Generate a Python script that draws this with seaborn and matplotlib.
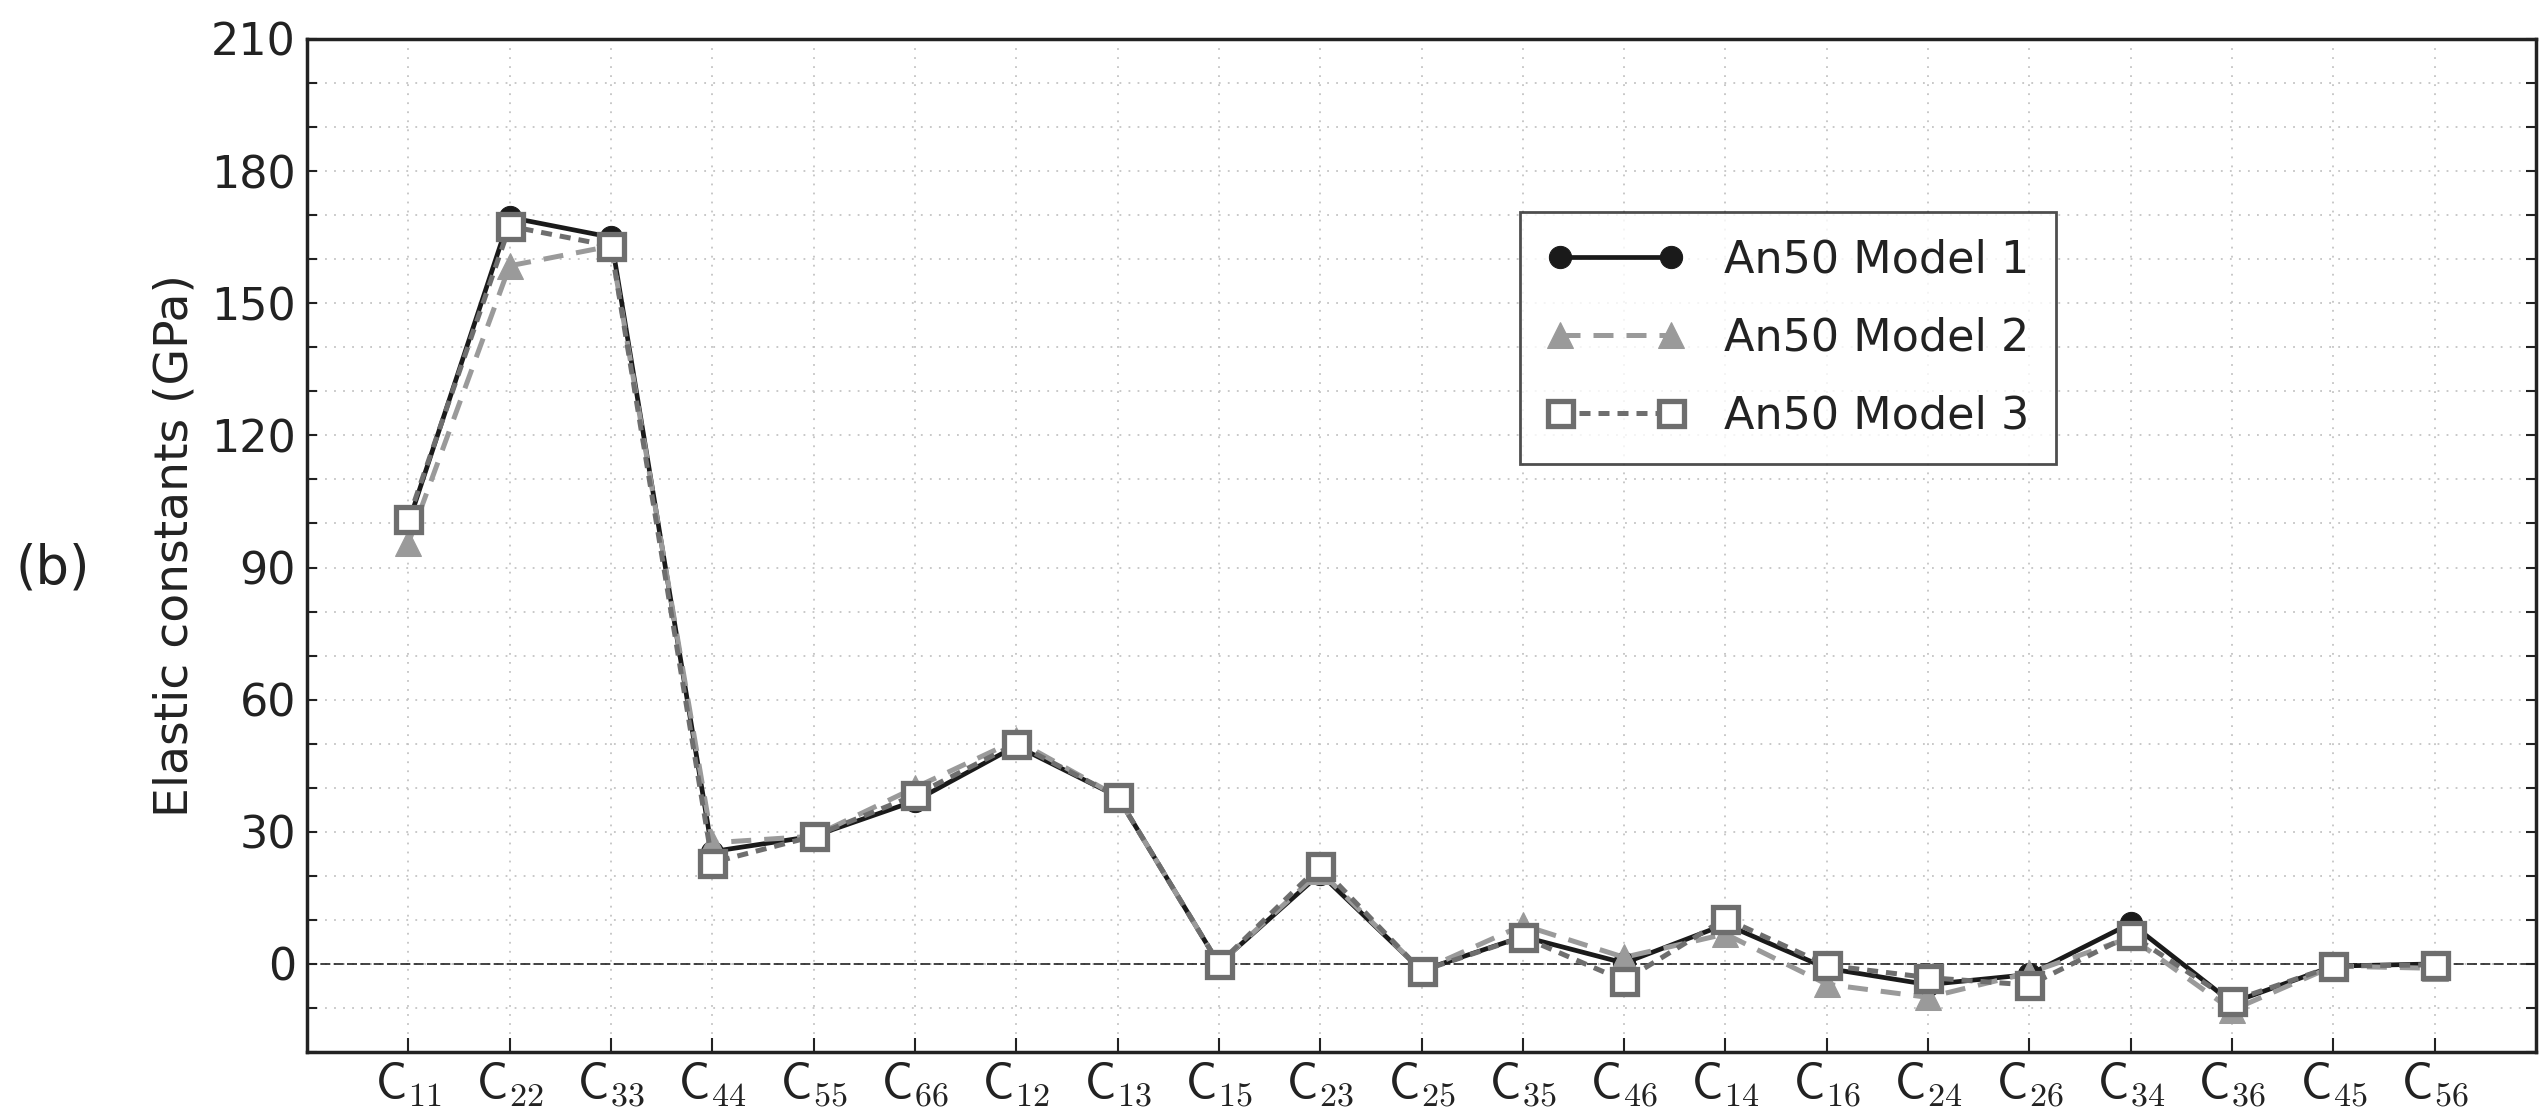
import numpy as np
import pandas as pd
import matplotlib
matplotlib.use("Agg")
import matplotlib.pyplot as plt
import seaborn as sns
from matplotlib.ticker import MultipleLocator

# ---- data ----
subscripts = ["11", "22", "33", "44", "55", "66", "12", "13", "15", "23", "25",
              "35", "46", "14", "16", "24", "26", "34", "36", "45", "56"]
model1 = [100, 169.5, 165, 25.5, 29, 37, 49.5, 38, 0, 20.5, -1.5,
          6.2, 0.2, 9, -1, -4.7, -2.4, 9.2, -8.8, -0.5, 0]
model2 = [95.5, 158.5, 163, 27.5, 29, 40, 50.8, 38, 0, 21, -1.5,
          8.8, 1.5, 6.8, -4.6, -7.6, -2, 6, -10.5, -0.5, -1]
model3 = [101, 167.5, 163, 23, 29, 38.3, 50, 38, 0, 22.3, -1.6,
          6.1, -3.8, 10.3, -0.3, -3.1, -4.8, 6.6, -8.4, -0.5, -0.2]
series_names = ["An50 Model 1", "An50 Model 2", "An50 Model 3"]
ylabel_text = "Elastic constants (GPa)"
panel_label = "(b)"

sns.set_style("white")
plt.rcParams["font.family"] = ["DejaVu Sans"]
plt.rcParams["mathtext.fontset"] = "cm"

W, H = 2539, 1115
fig = plt.figure(figsize=(W / 100, H / 100), dpi=100)
left, right, top, bottom = 307, 2536, 39, 1052
ax = fig.add_axes([left / W, (H - bottom) / H, (right - left) / W, (bottom - top) / H])

x = np.arange(len(subscripts))
df = pd.DataFrame({"x": x, "m1": model1, "m2": model2, "m3": model3})

# grid
ax.set_axisbelow(True)
ax.grid(True, which="both", linestyle=(0, (1, 4)), color="#c4c4c4", linewidth=1.3)
ax.axhline(0, color="#222222", linestyle=(0, (6, 2)), linewidth=1.2, zorder=1)

sns.lineplot(data=df, x="x", y="m1", ax=ax, sort=False, color="#1a1a1a",
             linewidth=3.4, marker="o", markersize=16, markeredgecolor="#1a1a1a",
             markerfacecolor="#1a1a1a", label=series_names[0], zorder=3)
sns.lineplot(data=df, x="x", y="m2", ax=ax, sort=False, color="#9a9a9a",
             linewidth=3.6, linestyle=(0, (4, 2.6)), marker="^", markersize=19,
             markeredgecolor="#9a9a9a", markerfacecolor="#9a9a9a",
             label=series_names[1], zorder=4)
sns.lineplot(data=df, x="x", y="m3", ax=ax, sort=False, color="#6e6e6e",
             linewidth=3.6, linestyle=(0, (2.2, 1.6)), marker="s", markersize=18,
             markeredgecolor="#6e6e6e", markerfacecolor="white", markeredgewidth=3.8,
             label=series_names[2], zorder=5)

ax.set_xlim(-1, 21)
ax.set_ylim(-20, 210)
ax.set_xticks(x)
ax.set_xticklabels([rf"$\mathsf{{C}}_{{{s}}}$" for s in subscripts], fontsize=35)
ax.yaxis.set_major_locator(MultipleLocator(30))
ax.yaxis.set_minor_locator(MultipleLocator(10))
ax.set_yticks([0, 30, 60, 90, 120, 150, 180, 210])
ax.tick_params(axis="y", which="major", labelsize=32, direction="in", length=7,
               width=1.5, left=True, right=True, pad=8, colors="#222222")
ax.tick_params(axis="y", which="minor", direction="in", length=7, width=1.5,
               left=True, right=True, colors="#222222")
ax.tick_params(axis="x", which="major", direction="in", length=10, width=1.5,
               bottom=True, top=False, pad=6, colors="#222222")
for lbl in ax.get_yticklabels() + ax.get_xticklabels():
    lbl.set_color("#222222")

for sp in ax.spines.values():
    sp.set_visible(True)
    sp.set_color("#222222")
    sp.set_linewidth(2.5)

ax.set_xlabel("")
ax.set_ylabel(ylabel_text, fontsize=34, color="#222222")
ax.yaxis.set_label_coords(-0.049, 0.5)

leg = ax.legend(loc="upper left", bbox_to_anchor=(0.544, 0.829), borderaxespad=0,
                fontsize=32, frameon=True, fancybox=False, numpoints=2,
                handlelength=3.1, handletextpad=0.9, borderpad=0.6,
                labelspacing=0.78)
leg.get_frame().set_edgecolor("#222222")
leg.get_frame().set_linewidth(2.0)
for t in leg.get_texts():
    t.set_color("#222222")

fig.text(53 / W, 1 - 568 / H, panel_label, ha="center", va="center",
         fontsize=38, color="#222222")

fig.savefig("out.png", dpi=100)
